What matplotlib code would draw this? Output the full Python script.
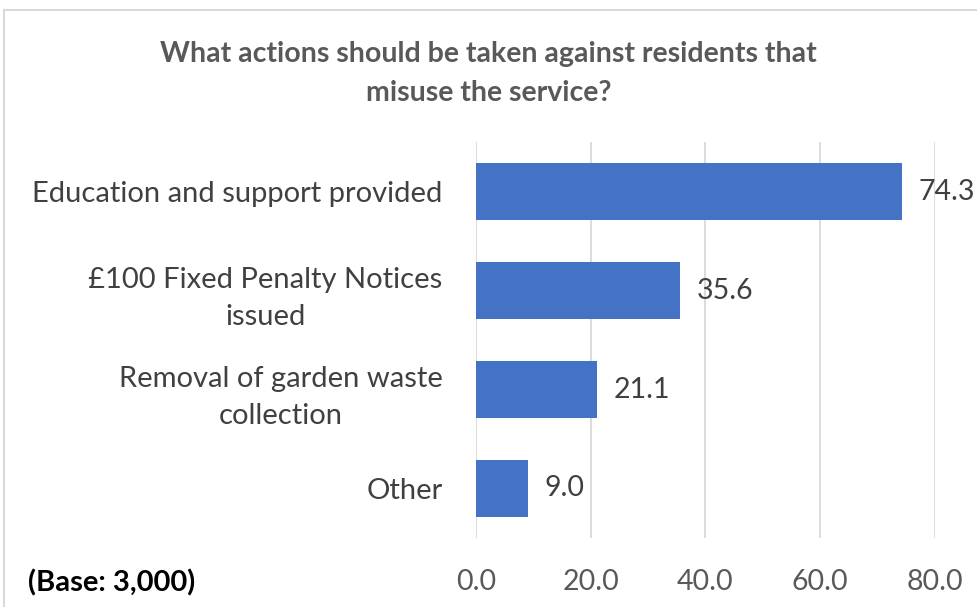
import matplotlib.pyplot as plt
from matplotlib.patches import Rectangle

plt.rcParams['font.family'] = ['Lato', 'DejaVu Sans']

categories = ["Education and support provided", "£100 Fixed Penalty Notices\nissued",
              "Removal of garden waste\ncollection", "Other"]
values = [74.3, 35.6, 21.1, 9.0]
xticks = [0, 20, 40, 60, 80]
title = "What actions should be taken against residents that\nmisuse the service?"
base_note = "(Base: 3,000)"

fig = plt.figure(figsize=(9.77, 6.07), dpi=100)
ax = fig.add_axes([0.4872, 0.1137, 0.957 - 0.4872, 0.766 - 0.1137])

ypos = list(range(len(categories)))
ax.barh(ypos, values, height=0.57, color="#4472C4", zorder=3)
ax.set_ylim(len(categories) - 0.5, -0.5)
ax.set_xlim(0, 80)
ax.set_xticks(xticks)
ax.set_xticklabels([f"{t:.1f}" for t in xticks], fontsize=20.5, color="#595959")
ax.set_yticks(ypos)
ax.set_yticklabels(categories, fontsize=21, color="#404040", multialignment="center")
for lbl in ax.get_yticklabels():
    lbl.set_linespacing(1.5)
ax.tick_params(axis="x", length=0, pad=22)
ax.tick_params(axis="y", length=0, pad=24)
ax.grid(axis="x", color="#D9D9D9", linewidth=1.3, zorder=0)
for s in ax.spines.values():
    s.set_visible(False)

for y, v in zip(ypos, values):
    ax.text(v + 2.9, y, f"{v:.1f}", va="center", ha="left", fontsize=20.5, color="#404040", zorder=4)

fig.text(0.5, 0.879, title, ha="center", va="center", fontsize=20.5, fontweight="bold",
         color="#595959", linespacing=1.62)
fig.text(0.029, 0.04, base_note, ha="left", va="center", fontsize=21, fontweight="bold", color="black")

# chart border (cropped on right/bottom in the reference)
fig.add_artist(Rectangle((4 / 977, -0.1), 1.2, 1 - 10 / 607 + 0.1, transform=fig.transFigure,
                         fill=False, edgecolor="#D9D9D9", linewidth=1.5))

fig.savefig("out.png", dpi=100)
